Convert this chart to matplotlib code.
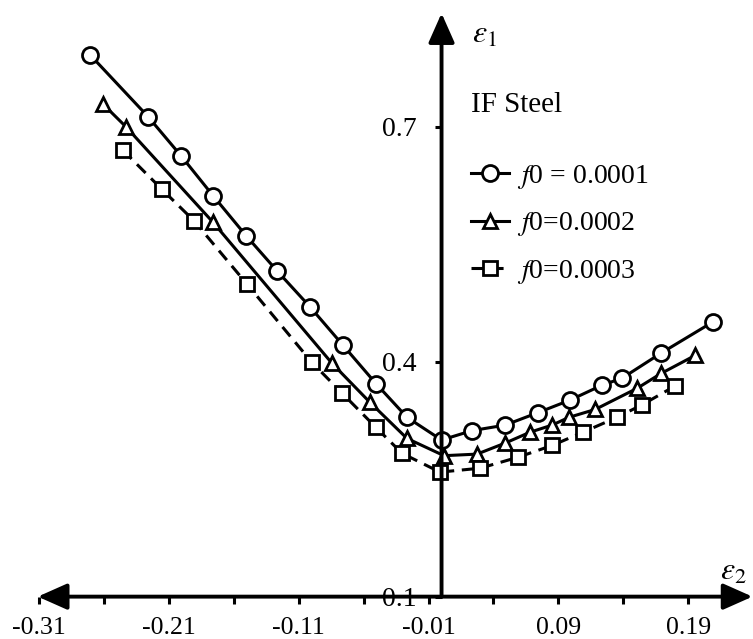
import numpy as np
import matplotlib
matplotlib.use("Agg")
import matplotlib.pyplot as plt

plt.rcParams['font.family'] = ['Liberation Serif', 'DejaVu Serif']
plt.rcParams['mathtext.fontset'] = 'stix'

# forming limit curves, (eps2, eps1) pairs
eps2_f1 = [-0.2708, -0.2261, -0.2007, -0.1760, -0.1506, -0.1267, -0.1013, -0.0759,
           -0.0505, -0.0266, 0.0, 0.0235, 0.0489, 0.0743, 0.0990, 0.1236, 0.1391,
           0.1691, 0.2092]
eps1_f1 = [0.792, 0.713, 0.663, 0.612, 0.561, 0.516, 0.470, 0.421,
           0.372, 0.329, 0.300, 0.312, 0.319, 0.335, 0.351, 0.370, 0.379,
           0.411, 0.451]

eps2_f2 = [-0.2608, -0.2431, -0.1760, -0.0844, -0.0551, -0.0266, 0.0019, 0.0273,
           0.0489, 0.0682, 0.0851, 0.0982, 0.1183, 0.1506, 0.1691, 0.1953]
eps1_f2 = [0.729, 0.700, 0.578, 0.398, 0.348, 0.302, 0.280, 0.282,
           0.296, 0.310, 0.319, 0.329, 0.339, 0.366, 0.385, 0.408]

eps2_f3 = [-0.2454, -0.2153, -0.1907, -0.1498, -0.0998, -0.0767, -0.0505, -0.0304,
           -0.0012, 0.0297, 0.0589, 0.0851, 0.1090, 0.1352, 0.1545, 0.1799]
eps1_f3 = [0.670, 0.620, 0.580, 0.499, 0.399, 0.360, 0.316, 0.283,
           0.259, 0.264, 0.278, 0.293, 0.310, 0.329, 0.345, 0.369]

labels = [r'$f$0 = 0.0001', r'$f$0=0.0002', r'$f$0=0.0003']

x_major = [-0.31, -0.21, -0.11, -0.01, 0.09, 0.19]
x_minor = [-0.26, -0.16, -0.06, 0.04, 0.14]
y_major = [0.1, 0.4, 0.7]

fig = plt.figure(figsize=(7.53, 6.39), dpi=100)
ax = fig.add_axes([0, 0, 1, 1])
ax.set_xlim(-0.3401, 0.2399)
ax.set_ylim(0.0459, 0.8619)

lw = 2.2
mew = 2.0
ax.plot(eps2_f1, eps1_f1, '-', color='black', lw=lw, marker='o', ms=11.5,
        mfc='white', mec='black', mew=mew, label=labels[0], zorder=3)
ax.plot(eps2_f2, eps1_f2, '-', color='black', lw=lw, marker='^', ms=10.5,
        mfc='white', mec='black', mew=mew, label=labels[1], zorder=3)
ax.plot(eps2_f3, eps1_f3, color='black', lw=lw, ls=(0, (4, 2.5)), marker='s', ms=10,
        mfc='white', mec='black', mew=mew, label=labels[2], zorder=3)

# axes drawn through the origin with arrow heads
for s in ax.spines.values():
    s.set_visible(False)
ax.spines['bottom'].set_position(('data', 0.1))
ax.spines['left'].set_position(('data', 0.0))

arrow_kw = dict(color='black', lw=2.8, shrinkA=0, shrinkB=0, mutation_scale=20)
ax.annotate('', xy=(0.2395, 0.1), xytext=(-0.3110, 0.1),
            arrowprops=dict(arrowstyle='<|-|>,head_length=0.9,head_width=0.4', **arrow_kw),
            zorder=4)
ax.annotate('', xy=(0.0, 0.845), xytext=(0.0, 0.1),
            arrowprops=dict(arrowstyle='-|>,head_length=0.9,head_width=0.4', **arrow_kw),
            zorder=4)

ax.set_xticks(x_major)
ax.set_xticklabels(['%.2f' % v for v in x_major])
ax.set_xticks(x_minor, minor=True)
ax.set_yticks(y_major)
ax.set_yticklabels(['%.1f' % v for v in y_major])
ax.tick_params(axis='x', which='both', direction='out', length=5, width=2.2,
               labelsize=18.5, pad=10)
ax.tick_params(axis='y', which='major', direction='out', length=5, width=2.2,
               labelsize=20, pad=13)

ax.text(0.643, 0.945, r'$\varepsilon_1$', transform=ax.transAxes, fontsize=23,
        ha='center', va='center')
ax.text(0.974, 0.105, r'$\varepsilon_2$', transform=ax.transAxes, fontsize=23,
        ha='center', va='center')
ax.text(0.626, 0.836, 'IF Steel', transform=ax.transAxes, fontsize=21,
        ha='left', va='center')

ax.legend(loc='upper left', bbox_to_anchor=(0.626, 0.745), frameon=False,
          fontsize=20, handlelength=1.35, handletextpad=0.3, labelspacing=0.7,
          borderpad=0, borderaxespad=0)

fig.savefig('out.png', dpi=100, facecolor='white')
